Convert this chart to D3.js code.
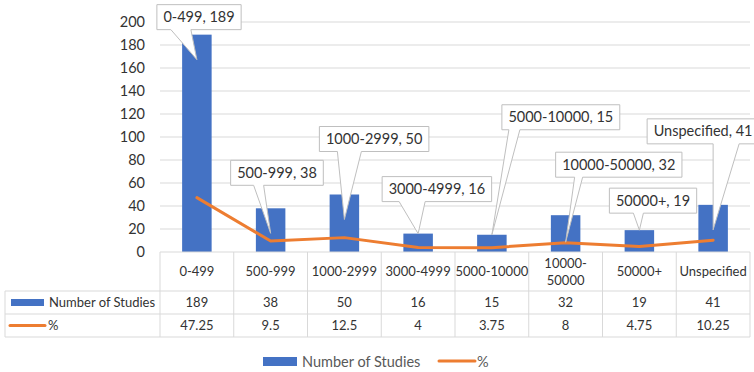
<!DOCTYPE html>
<html>
<head>
<meta charset="utf-8">
<script src="https://cdn.jsdelivr.net/npm/d3@7"></script>
<style>
  body { margin: 0; background: #fff; }
  text { font-family: Lato, "Open Sans", sans-serif; }
</style>
</head>
<body>
<div id="chart"></div>
<script>
// Data
const categories = ["0-499", "500-999", "1000-2999", "3000-4999", "5000-10000", "10000-50000", "50000+", "Unspecified"];
const headerLabels = [["0-499"], ["500-999"], ["1000-2999"], ["3000-4999"], ["5000-10000"], ["10000-", "50000"], ["50000+"], ["Unspecified"]];
const studies = [189, 38, 50, 16, 15, 32, 19, 41];
const percent = [47.25, 9.5, 12.5, 4, 3.75, 8, 4.75, 10.25];
const percentLabels = ["47.25", "9.5", "12.5", "4", "3.75", "8", "4.75", "10.25"];
const yTicks = [0, 20, 40, 60, 80, 100, 120, 140, 160, 180, 200];

// Callout placement (relative to bar centre / bar top): box dx, box dy, tip dy, pointer base from/to
const calloutDx = [-40, -40, -25, -36, 10, -10, -30, -66];
const calloutDy = [-30, -48, -68, -57, -130, -63, -42, -86];
const calloutTip = [25, 25, 25, 0, 0, 27, 0, 25];
const calloutBase = [[14, 34], [23, 33], [18, 42], [17, 43], [7, 18], [19, 27], [24, 34], [66, 92]];

const W = 754, H = 372;
const blue = "#4472C4", orange = "#ED7D31", grid = "#d9d9d9", txt = "#333333";

const svg = d3.select("#chart").append("svg")
    .attr("width", W)
    .attr("height", H);

const x = d3.scaleBand()
    .domain(categories)
    .range([160, 750]);

const y = d3.scaleLinear()
    .domain([0, 200])
    .range([252, 22]);

const barW = x.bandwidth() * 0.4;
const cx = d => x(d) + x.bandwidth() / 2;

// Gridlines
svg.append("g").selectAll("line")
    .data(yTicks.filter(t => t > 0))
    .join("line")
    .attr("x1", 160)
    .attr("x2", 750)
    .attr("y1", d => y(d))
    .attr("y2", d => y(d))
    .attr("stroke", grid)
    .attr("stroke-width", 1);

// Y axis labels
svg.append("g").selectAll("text")
    .data(yTicks)
    .join("text")
    .attr("x", 145)
    .attr("y", d => y(d))
    .attr("dy", "0.35em")
    .attr("text-anchor", "end")
    .attr("font-size", "14.5px")
    .attr("fill", txt)
    .text(d => d);

// Bars
svg.append("g").selectAll("rect")
    .data(categories)
    .join("rect")
    .attr("x", d => cx(d) - barW / 2)
    .attr("y", (d, i) => y(studies[i]))
    .attr("width", barW)
    .attr("height", (d, i) => y(0) - y(studies[i]))
    .attr("fill", blue);

// Percent line (plotted on the same axis)
const line = d3.line()
    .x((d, i) => cx(categories[i]))
    .y(d => y(d));

svg.append("path")
    .datum(percent)
    .attr("d", line)
    .attr("fill", "none")
    .attr("stroke", orange)
    .attr("stroke-width", 3)
    .attr("stroke-linejoin", "round")
    .attr("stroke-linecap", "round");

// Callouts
const calloutG = svg.append("g");
categories.forEach((c, i) => {
    const label = `${c}, ${studies[i]}`;
    const bx = cx(c);
    const top = y(studies[i]);
    const g = calloutG.append("g");
    const t = g.append("text")
        .attr("font-size", "14.5px")
        .attr("fill", txt)
        .text(label);
    const tw = t.node().getComputedTextLength();
    const left = bx + calloutDx[i];
    const boxTop = top + calloutDy[i];
    const bw = tw + 13;
    const bh = 25;
    const bottom = boxTop + bh;
    const tipX = bx, tipY = top + calloutTip[i];
    const b0 = left + calloutBase[i][0], b1 = left + calloutBase[i][1];
    const p = d3.path();
    p.moveTo(left, boxTop);
    p.lineTo(left + bw, boxTop);
    p.lineTo(left + bw, bottom);
    p.lineTo(b1, bottom);
    p.lineTo(tipX, tipY);
    p.lineTo(b0, bottom);
    p.lineTo(left, bottom);
    p.closePath();
    g.insert("path", "text")
        .attr("d", p.toString())
        .attr("fill", "#fff")
        .attr("stroke", "#bfbfbf")
        .attr("stroke-width", 1);
    t.attr("x", left + 6.5)
        .attr("y", boxTop + bh / 2)
        .attr("dy", "0.35em");
});

// Data table
const rowY = [252, 291, 314, 337];
const table = svg.append("g");

// horizontal lines
table.append("line").attr("x1", 160).attr("x2", 750).attr("y1", rowY[0]).attr("y2", rowY[0]).attr("stroke", grid);
[1, 2, 3].forEach(r => {
    table.append("line")
        .attr("x1", 5).attr("x2", 750)
        .attr("y1", rowY[r]).attr("y2", rowY[r])
        .attr("stroke", grid);
});
// vertical lines
const bounds = categories.map(c => x(c)).concat([x.range()[1]]);
table.selectAll("line.v")
    .data(bounds)
    .join("line")
    .attr("class", "v")
    .attr("x1", d => d).attr("x2", d => d)
    .attr("y1", rowY[0]).attr("y2", rowY[3])
    .attr("stroke", grid);
table.append("line").attr("x1", 5).attr("x2", 5).attr("y1", rowY[1]).attr("y2", rowY[3]).attr("stroke", grid);

// header labels
categories.forEach((c, i) => {
    const lines = headerLabels[i];
    const midY = (rowY[0] + rowY[1]) / 2;
    lines.forEach((l, k) => {
        table.append("text")
            .attr("x", cx(c))
            .attr("y", midY + (k - (lines.length - 1) / 2) * 17)
            .attr("dy", "0.35em")
            .attr("text-anchor", "middle")
            .attr("font-size", "13px")
            .attr("fill", txt)
            .text(l);
    });
});

// value rows
const rows = [studies.map(String), percentLabels];
rows.forEach((vals, r) => {
    const midY = (rowY[r + 1] + rowY[r + 2]) / 2;
    table.selectAll(null)
        .data(vals)
        .join("text")
        .attr("x", (d, i) => cx(categories[i]))
        .attr("y", midY)
        .attr("dy", "0.35em")
        .attr("text-anchor", "middle")
        .attr("font-size", "13px")
        .attr("fill", txt)
        .text(d => d);
});

// row legend keys
table.append("rect")
    .attr("x", 11).attr("y", (rowY[1] + rowY[2]) / 2 - 3.5)
    .attr("width", 33).attr("height", 7)
    .attr("fill", blue);
table.append("text")
    .attr("x", 49).attr("y", (rowY[1] + rowY[2]) / 2)
    .attr("dy", "0.35em")
    .attr("font-size", "13px")
    .attr("fill", txt)
    .text("Number of Studies");
table.append("line")
    .attr("x1", 10).attr("x2", 45)
    .attr("y1", (rowY[2] + rowY[3]) / 2).attr("y2", (rowY[2] + rowY[3]) / 2)
    .attr("stroke", orange).attr("stroke-width", 3).attr("stroke-linecap", "round");
table.append("text")
    .attr("x", 48).attr("y", (rowY[2] + rowY[3]) / 2)
    .attr("dy", "0.35em")
    .attr("font-size", "13px")
    .attr("fill", txt)
    .text("%");

// Bottom legend
const legend = svg.append("g");
legend.append("rect")
    .attr("x", 263).attr("y", 357)
    .attr("width", 34).attr("height", 9)
    .attr("fill", blue);
legend.append("text")
    .attr("x", 302).attr("y", 361.5)
    .attr("dy", "0.35em")
    .attr("font-size", "14.5px")
    .attr("fill", "#595959")
    .text("Number of Studies");
legend.append("line")
    .attr("x1", 439).attr("x2", 475)
    .attr("y1", 361).attr("y2", 361)
    .attr("stroke", orange).attr("stroke-width", 3).attr("stroke-linecap", "round");
legend.append("text")
    .attr("x", 477).attr("y", 361.5)
    .attr("dy", "0.35em")
    .attr("font-size", "14.5px")
    .attr("fill", "#595959")
    .text("%");
</script>
</body>
</html>
